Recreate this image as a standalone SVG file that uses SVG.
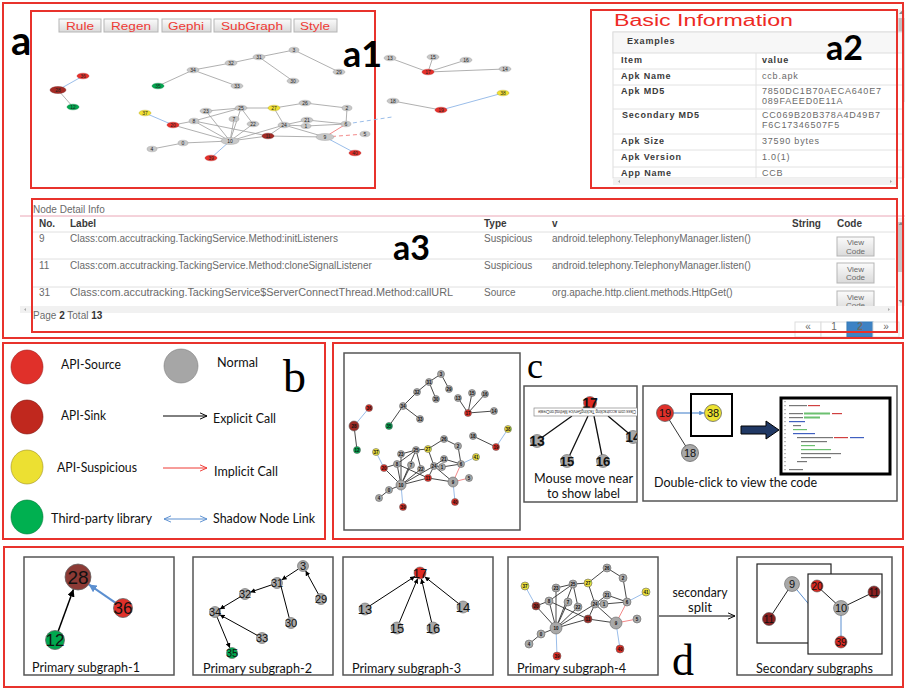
<svg xmlns="http://www.w3.org/2000/svg" width="905" height="688" viewBox="0 0 905 688">
<defs>
<style>
.frame{fill:none;stroke:#e8322c;stroke-width:2}
.btn rect{fill:url(#btnG);stroke:#b5b5b5;stroke-width:1}
.btn text{font-family:"Liberation Sans",Arial,sans-serif;font-size:11px;fill:#ee3a34}
.big{font-family:Lato,"Open Sans",sans-serif;font-weight:bold;fill:#000}
.serif{font-family:"Liberation Serif","Times New Roman",serif;fill:#000}
.lt{font-family:Lato,"Open Sans",sans-serif;font-size:13.5px;fill:#111}
.tb{font-family:"Liberation Sans",Arial,sans-serif;font-size:10px;fill:#6a6a6a}
.tbb{font-family:"Liberation Sans",Arial,sans-serif;font-size:10px;font-weight:bold;fill:#3a3a3a}
.a2t text{font-size:9px;letter-spacing:0.8px}
.vc{font-size:8px;text-anchor:middle}
.eg{stroke:#9c9c9c;stroke-width:0.8;fill:none}
.ek{stroke:#333;stroke-width:0.9;fill:none}
.eb{stroke:#8fb6e6;stroke-width:0.9;fill:none}
.er{stroke:#f07a7a;stroke-width:0.9;fill:none}
.ng{fill:#c8c8c8;stroke:#999;stroke-width:0.4}
.nr{fill:#e8302a;stroke:#b02020;stroke-width:0.4}
.nd{fill:#a52a24;stroke:#701a16;stroke-width:0.4}
.ny{fill:#f2e232;stroke:#b0a020;stroke-width:0.4}
.nv{fill:#00a84f;stroke:#007a38;stroke-width:0.4}
.cg{fill:#a8a8a8;stroke:#666;stroke-width:0.6}
.cr{fill:#e02a22;stroke:#666;stroke-width:0.6}
.cd{fill:#9b2a24;stroke:#666;stroke-width:0.6}
.cy{fill:#ece23a;stroke:#666;stroke-width:0.6}
.cv{fill:#00a84f;stroke:#666;stroke-width:0.6}
.t5{font-family:"Liberation Sans",Arial,sans-serif;font-size:5px;text-anchor:middle;fill:#222}
.t4{font-family:"Liberation Sans",Arial,sans-serif;font-size:4.5px;font-weight:bold;text-anchor:middle;fill:#111}
.tn{font-family:"Liberation Sans",Arial,sans-serif;text-anchor:middle;fill:#111}
.box{fill:#fff;stroke:#555;stroke-width:1.5}
</style>
<linearGradient id="btnG" x1="0" y1="0" x2="0" y2="1"><stop offset="0" stop-color="#fbfbfb"/><stop offset="1" stop-color="#dadada"/></linearGradient>
<marker id="chevK" viewBox="0 0 10 10" refX="9" refY="5" markerWidth="8" markerHeight="8" orient="auto"><path d="M0,1 L9,5 L0,9" fill="none" stroke="#000" stroke-width="1.2"/></marker>
<marker id="chevR" viewBox="0 0 10 10" refX="9" refY="5" markerWidth="8" markerHeight="8" orient="auto"><path d="M0,1 L9,5 L0,9" fill="none" stroke="#ee3a34" stroke-width="1.2"/></marker>
<marker id="chevB" viewBox="0 0 10 10" refX="9" refY="5" markerWidth="8" markerHeight="8" orient="auto-start-reverse"><path d="M0,1 L9,5 L0,9" fill="none" stroke="#5b8fd0" stroke-width="1.2"/></marker>
<marker id="triK" viewBox="0 0 10 10" refX="10" refY="5" markerWidth="5" markerHeight="5" orient="auto"><path d="M0,0 L10,5 L0,10 z" fill="#000"/></marker>
<marker id="triB" viewBox="0 0 10 10" refX="10" refY="5" markerWidth="4" markerHeight="4" orient="auto-start-reverse"><path d="M0,0 L10,5 L0,10 z" fill="#5b8fd0"/></marker>
<clipPath id="clipMouse"><rect x="524" y="386" width="113" height="116"/></clipPath>
<clipPath id="clipA3"><rect x="20" y="216" width="877" height="90"/></clipPath>
</defs>
<rect width="905" height="688" fill="#fff"/>

<!-- ================= PANEL a ================= -->
<g id="panel-a">
<rect class="frame" x="3" y="3" width="900" height="335"/>
<text class="big" x="11" y="55" font-size="40">a</text>
</g>

<!-- a1 -->
<g id="a1">
<rect class="frame" x="31" y="11" width="344" height="177"/>
<g class="btn" id="buttons">
<rect x="59" y="19" width="42" height="13"/><text x="66" y="29.5" textLength="28" lengthAdjust="spacingAndGlyphs">Rule</text>
<rect x="104" y="19" width="54" height="13"/><text x="111" y="29.5" textLength="40" lengthAdjust="spacingAndGlyphs">Regen</text>
<rect x="162" y="19" width="49" height="13"/><text x="168" y="29.5" textLength="36" lengthAdjust="spacingAndGlyphs">Gephi</text>
<rect x="214" y="19" width="77" height="13"/><text x="221" y="29.5" textLength="62" lengthAdjust="spacingAndGlyphs">SubGraph</text>
<rect x="294" y="19" width="43" height="13"/><text x="300" y="29.5" textLength="30" lengthAdjust="spacingAndGlyphs">Style</text>
</g>
<text class="big" x="343" y="67" font-size="36">a1</text>
<g id="a1-edges">
<path class="eg" d="M58,90L73,107 M158,86L193,70 M193,70L237,86 M193,70L231,63 M231,63L259,57 M259,57L294,50 M259,57L293,81 M294,50L339,72 M173,125L194,121 M173,125L230,141 M194,121L241,108 M194,121L230,141 M194,121L268,136 M206,111L241,108 M206,111L230,141 M241,108L230,141 M241,108L253,124 M241,108L274,108 M234,119L230,141 M253,124L230,141 M230,141L284,125 M274,108L284,125 M274,108L305,103 M305,103L347,108 M347,108L346,124 M284,125L307,120 M307,120L346,124 M284,125L306,126 M306,126L346,124 M284,125L268,136 M268,136L230,141 M268,136L325,137 M284,125L325,137 M230,141L183,143 M183,143L152,149 M428,72L390,58 M428,72L433,57 M428,72L466,60 M428,72L505,69 M393,101L441,110"/>
<path class="eb" d="M58,90L83,76 M145,113L173,125 M325,137L355,153 M230,141L211,158 M441,110L503,93"/>
<path class="eb" stroke-dasharray="4,3" d="M346,124L392,117"/>
<path class="er" d="M346,124L325,137"/>
<path class="er" stroke-dasharray="4,3" d="M325,137L365,134"/>
</g>
<g id="a1-nodes">
<g id="a1-n28"><ellipse class="nd" cx="58" cy="90" rx="8" ry="3.5"/><text class="t5" x="58" y="91.8">28</text></g>
<g id="a1-n36"><ellipse class="nr" cx="83" cy="76" rx="6" ry="2.8"/><text class="t5" x="83" y="77.8">36</text></g>
<g id="a1-n12"><ellipse class="nv" cx="73" cy="107" rx="6" ry="2.8"/><text class="t5" x="73" y="108.8">12</text></g>
<g id="a1-n35"><ellipse class="nv" cx="158" cy="86" rx="6" ry="2.8"/><text class="t5" x="158" y="87.8">35</text></g>
<g id="a1-n34"><ellipse class="ng" cx="193" cy="70" rx="6" ry="2.8"/><text class="t5" x="193" y="71.8">34</text></g>
<g id="a1-n33"><ellipse class="ng" cx="237" cy="86" rx="6" ry="2.8"/><text class="t5" x="237" y="87.8">33</text></g>
<g id="a1-n32"><ellipse class="ng" cx="231" cy="63" rx="6" ry="2.8"/><text class="t5" x="231" y="64.8">32</text></g>
<g id="a1-n31"><ellipse class="ng" cx="259" cy="57" rx="6" ry="2.8"/><text class="t5" x="259" y="58.8">31</text></g>
<g id="a1-n30"><ellipse class="ng" cx="293" cy="81" rx="6" ry="2.8"/><text class="t5" x="293" y="82.8">30</text></g>
<g id="a1-n3"><ellipse class="ng" cx="294" cy="50" rx="5" ry="2.8"/><text class="t5" x="294" y="51.8">3</text></g>
<g id="a1-n29"><ellipse class="ng" cx="339" cy="72" rx="6" ry="2.8"/><text class="t5" x="339" y="73.8">29</text></g>
<g id="a1-n37"><ellipse class="ny" cx="145" cy="113" rx="6" ry="2.8"/><text class="t5" x="145" y="114.8">37</text></g>
<g id="a1-n20"><ellipse class="nr" cx="173" cy="125" rx="6" ry="2.8"/><text class="t5" x="173" y="126.8">20</text></g>
<g id="a1-n23"><ellipse class="ng" cx="206" cy="111" rx="6" ry="2.8"/><text class="t5" x="206" y="112.8">23</text></g>
<g id="a1-n8"><ellipse class="ng" cx="194" cy="121" rx="5" ry="2.8"/><text class="t5" x="194" y="122.8">8</text></g>
<g id="a1-n25"><ellipse class="ng" cx="241" cy="108" rx="6" ry="2.8"/><text class="t5" x="241" y="109.8">25</text></g>
<g id="a1-n27"><ellipse class="ny" cx="274" cy="108" rx="6" ry="2.8"/><text class="t5" x="274" y="109.8">27</text></g>
<g id="a1-n26"><ellipse class="ng" cx="305" cy="103" rx="6" ry="2.8"/><text class="t5" x="305" y="104.8">26</text></g>
<g id="a1-n2"><ellipse class="ng" cx="347" cy="108" rx="5" ry="2.8"/><text class="t5" x="347" y="109.8">2</text></g>
<g id="a1-n7"><ellipse class="ng" cx="234" cy="119" rx="5" ry="2.8"/><text class="t5" x="234" y="120.8">7</text></g>
<g id="a1-n22"><ellipse class="ng" cx="253" cy="124" rx="6" ry="2.8"/><text class="t5" x="253" y="125.8">22</text></g>
<g id="a1-n24"><ellipse class="ng" cx="284" cy="125" rx="6" ry="2.8"/><text class="t5" x="284" y="126.8">24</text></g>
<g id="a1-n21"><ellipse class="ng" cx="307" cy="120" rx="6" ry="2.8"/><text class="t5" x="307" y="121.8">21</text></g>
<g id="a1-n1"><ellipse class="ng" cx="306" cy="126" rx="5" ry="2.6"/><text class="t5" x="306" y="127.8">1</text></g>
<g id="a1-n6"><ellipse class="ng" cx="346" cy="124" rx="5" ry="2.8"/><text class="t5" x="346" y="125.8">6</text></g>
<g id="a1-n11"><ellipse class="nd" cx="268" cy="136" rx="6" ry="2.8"/><text class="t5" x="268" y="137.8">11</text></g>
<g id="a1-n9"><ellipse class="ng" cx="325" cy="137" rx="9" ry="3.5"/><text class="t5" x="325" y="138.8">9</text></g>
<g id="a1-n5"><ellipse class="ng" cx="365" cy="134" rx="5" ry="2.8"/><text class="t5" x="365" y="135.8">5</text></g>
<g id="a1-n10"><ellipse class="ng" cx="230" cy="141" rx="9" ry="3.5"/><text class="t5" x="230" y="142.8">10</text></g>
<g id="a1-n0"><ellipse class="ng" cx="183" cy="143" rx="5" ry="2.8"/><text class="t5" x="183" y="144.8">0</text></g>
<g id="a1-n4"><ellipse class="ng" cx="152" cy="149" rx="5" ry="2.8"/><text class="t5" x="152" y="150.8">4</text></g>
<g id="a1-n39"><ellipse class="nr" cx="211" cy="158" rx="6" ry="2.8"/><text class="t5" x="211" y="159.8">39</text></g>
<g id="a1-n40"><ellipse class="nr" cx="355" cy="153" rx="6" ry="2.8"/><text class="t5" x="355" y="154.8">40</text></g>
<g id="a1-n13"><ellipse class="ng" cx="390" cy="58" rx="6" ry="2.8"/><text class="t5" x="390" y="59.8">13</text></g>
<g id="a1-n15"><ellipse class="ng" cx="433" cy="57" rx="6" ry="2.8"/><text class="t5" x="433" y="58.8">15</text></g>
<g id="a1-n16"><ellipse class="ng" cx="466" cy="60" rx="6" ry="2.8"/><text class="t5" x="466" y="61.8">16</text></g>
<g id="a1-n14"><ellipse class="ng" cx="505" cy="69" rx="6" ry="2.8"/><text class="t5" x="505" y="70.8">14</text></g>
<g id="a1-n17"><ellipse class="nr" cx="428" cy="72" rx="6" ry="2.8"/><text class="t5" x="428" y="73.8">17</text></g>
<g id="a1-n18"><ellipse class="ng" cx="393" cy="101" rx="6" ry="2.8"/><text class="t5" x="393" y="102.8">18</text></g>
<g id="a1-n19"><ellipse class="nr" cx="441" cy="110" rx="6" ry="2.8"/><text class="t5" x="441" y="111.8">19</text></g>
<g id="a1-n38"><ellipse class="ny" cx="503" cy="93" rx="6" ry="2.8"/><text class="t5" x="503" y="94.8">38</text></g>
</g>
</g>

<!-- a2 -->
<g id="a2">
<rect x="898" y="10" width="7" height="168" fill="#f1f1f1"/>
<rect x="898.5" y="18" width="6" height="84" fill="#c1c1c1"/>
<path d="M899,14 L901.5,11 L904,14z M899,172 L901.5,175 L904,172z" fill="#888"/>
<rect x="613" y="32" width="290" height="146" fill="#fff" stroke="#ddd" stroke-width="1"/>
<rect x="613" y="32" width="290" height="21" fill="#f7f7f7" stroke="#ddd" stroke-width="1"/>
<path d="M613,69H903 M613,85H903 M613,109H903 M613,134H903 M613,150H903 M613,167H903 M756,53V178" stroke="#e2e2e2" stroke-width="1" fill="none"/>
<rect x="613" y="178" width="284" height="7" fill="#f1f1f1"/>
<path d="M618,181.5 l2,-1.5 v3z M892,181.5 l-2,-1.5 v3z" fill="#aaa"/>
<text x="614" y="26" font-family="'Liberation Sans',Arial,sans-serif" font-size="16" fill="#ee2a24" textLength="179" lengthAdjust="spacingAndGlyphs">Basic Information</text>
<g class="a2t">
<text class="tbb" x="627" y="44">Examples</text>
<text class="tbb" x="621" y="63">Item</text><text class="tbb" x="762" y="63">value</text>
<text class="tbb" x="621" y="79">Apk Name</text><text class="tb" x="762" y="79">ccb.apk</text>
<text class="tbb" x="621" y="94">Apk MD5</text><text class="tb" x="762" y="94">7850DC1B70AECA640E7</text><text class="tb" x="762" y="104">089FAEED0E11A</text>
<text class="tbb" x="622" y="118">Secondary MD5</text><text class="tb" x="762" y="118">CC069B20B378A4D49B7</text><text class="tb" x="762" y="128">F6C17346507F5</text>
<text class="tbb" x="621" y="144">Apk Size</text><text class="tb" x="762" y="144">37590 bytes</text>
<text class="tbb" x="621" y="160">Apk Version</text><text class="tb" x="762" y="160">1.0(1)</text>
<text class="tbb" x="621" y="176">App Name</text><text class="tb" x="762" y="176">CCB</text>
</g>
<text class="big" x="826" y="60" font-size="34">a2</text>
<rect class="frame" x="591" y="10" width="306" height="178"/>
</g>

<!-- a3 -->
<g id="a3">
<text class="tb" x="33" y="213" fill="#555">Node Detail Info</text>
<line x1="20" y1="216" x2="905" y2="216" stroke="#eaa6b6" stroke-width="1"/>
<rect x="897" y="218" width="8" height="88" fill="#f1f1f1"/>
<rect x="898" y="222" width="6" height="50" fill="#c8c8c8"/>
<path d="M898.5,225 l2.5,-3 l2.5,3z M898.5,300 l2.5,3 l2.5,-3z" fill="#888"/>
<g clip-path="url(#clipA3)">
<text class="tbb" x="39" y="227">No.</text><text class="tbb" x="70" y="227">Label</text>
<text class="tbb" x="484" y="227">Type</text><text class="tbb" x="552" y="227">v</text>
<text class="tbb" x="792" y="227">String</text><text class="tbb" x="837" y="227">Code</text>
<path d="M33,232H895 M33,259H895 M33,287H895" stroke="#e0e0e0" stroke-width="1"/>
<text class="tb" x="39" y="242">9</text>
<text class="tb" x="70" y="242">Class:com.accutracking.TackingService.Method:initListeners</text>
<text class="tb" x="484" y="242">Suspicious</text>
<text class="tb" x="552" y="242">android.telephony.TelephonyManager.listen()</text>
<g id="btn-view1"><rect x="837" y="237" width="37" height="19" fill="url(#btnG)" stroke="#b5b5b5"/><text class="tb vc" x="855.5" y="245">View</text><text class="tb vc" x="855.5" y="253.5">Code</text></g>
<text class="tb" x="39" y="269">11</text>
<text class="tb" x="70" y="269">Class:com.accutracking.TackingService.Method:cloneSignalListener</text>
<text class="tb" x="484" y="269">Suspicious</text>
<text class="tb" x="552" y="269">android.telephony.TelephonyManager.listen()</text>
<g id="btn-view2"><rect x="837" y="263" width="37" height="20" fill="url(#btnG)" stroke="#b5b5b5"/><text class="tb vc" x="855.5" y="271.5">View</text><text class="tb vc" x="855.5" y="280">Code</text></g>
<text class="tb" x="39" y="296">31</text>
<text class="tb" x="70" y="296" textLength="383" lengthAdjust="spacingAndGlyphs">Class:com.accutracking.TackingService$ServerConnectThread.Method:callURL</text>
<text class="tb" x="484" y="296">Source</text>
<text class="tb" x="552" y="296">org.apache.http.client.methods.HttpGet()</text>
<g id="btn-view3"><rect x="837" y="291" width="37" height="20" fill="url(#btnG)" stroke="#b5b5b5"/><text class="tb vc" x="855.5" y="299.5">View</text><text class="tb vc" x="855.5" y="308">Code</text></g>
</g>
<rect x="20" y="306" width="875" height="7" fill="#f1f1f1"/>
<path d="M24,309.5 l2,-1.5 v3z M890,309.5 l-2,-1.5 v3z" fill="#aaa"/>
<text class="tb" x="33" y="319" fill="#555">Page <tspan font-weight="bold" fill="#333">2</tspan> Total <tspan font-weight="bold" fill="#333">13</tspan></text>
<g id="pagination">
<rect x="795" y="322" width="26" height="15" fill="#fff" stroke="#ddd"/><text class="tb" x="808" y="330" text-anchor="middle" font-size="8" fill="#6a8cc8">«</text>
<rect x="821" y="322" width="26" height="15" fill="#fff" stroke="#ddd"/><text class="tb" x="834" y="330" text-anchor="middle" fill="#337ab7">1</text>
<rect x="847" y="322" width="26" height="15" fill="#3d82c4" stroke="#337ab7"/><text class="tb" x="860" y="330" text-anchor="middle" font-weight="bold" fill="#ffffff">2</text>
<rect x="873" y="322" width="26" height="15" fill="#fff" stroke="#ddd"/><text class="tb" x="886" y="330" text-anchor="middle" font-size="8" fill="#6a8cc8">»</text>
</g>
<text class="big" x="393" y="260" font-size="34">a3</text>
<rect class="frame" x="32" y="199" width="865" height="133"/>
<rect class="frame" x="3" y="3" width="900" height="335"/>
</g>

<!-- ================= PANEL b (legend) ================= -->
<g id="panel-b">
<rect class="frame" x="3" y="343" width="322" height="196"/>
<text class="serif" x="283" y="392" font-size="46">b</text>
<g id="leg-source"><ellipse cx="27" cy="367" rx="16" ry="17" fill="#e0302a" stroke="#a02020" stroke-width="0.6"/><text class="lt" x="61" y="369" textLength="60" lengthAdjust="spacingAndGlyphs">API-Source</text></g>
<g id="leg-sink"><ellipse cx="27" cy="417" rx="16" ry="17" fill="#c0281e" stroke="#801810" stroke-width="0.6"/><text class="lt" x="61" y="420" textLength="45" lengthAdjust="spacingAndGlyphs">API-Sink</text></g>
<g id="leg-susp"><ellipse cx="27" cy="467" rx="16" ry="17" fill="#ece032" stroke="#a09020" stroke-width="0.6"/><text class="lt" x="57" y="472" textLength="80" lengthAdjust="spacingAndGlyphs">API-Suspicious</text></g>
<g id="leg-third"><ellipse cx="27" cy="517" rx="16" ry="17" fill="#00b050" stroke="#007a38" stroke-width="0.6"/><text class="lt" x="51" y="523" textLength="101" lengthAdjust="spacingAndGlyphs">Third-party library</text></g>
<g id="leg-normal"><ellipse cx="181" cy="366" rx="17" ry="17" fill="#a6a6a6" stroke="#808080" stroke-width="0.6"/><text class="lt" x="217" y="367" textLength="41" lengthAdjust="spacingAndGlyphs">Normal</text></g>
<g id="leg-explicit"><line x1="163" y1="416" x2="207" y2="416" stroke="#000" stroke-width="1" marker-end="url(#chevK)"/><text class="lt" x="213" y="423" textLength="63" lengthAdjust="spacingAndGlyphs">Explicit Call</text></g>
<g id="leg-implicit"><line x1="163" y1="468" x2="207" y2="468" stroke="#ee3a34" stroke-width="1" marker-end="url(#chevR)"/><text class="lt" x="214" y="476" textLength="64" lengthAdjust="spacingAndGlyphs">Implicit Call</text></g>
<g id="leg-shadow"><line x1="164" y1="519" x2="207" y2="519" stroke="#5b8fd0" stroke-width="1" marker-start="url(#chevB)" marker-end="url(#chevB)"/><text class="lt" x="213" y="523" textLength="102" lengthAdjust="spacingAndGlyphs">Shadow Node Link</text></g>
</g>

<!-- ================= PANEL c ================= -->
<g id="panel-c">
<rect class="frame" x="333" y="343" width="570" height="196"/>
<text class="serif" x="527" y="378" font-size="36">c</text>

<g id="c-graph">
<rect class="box" x="344" y="353" width="176" height="177"/>
<path class="ek" d="M354,426L357,450 M389,426L403,406 M403,406L420,419 M403,406L417,392 M417,392L429,382 M429,382L441,374 M429,382L436,399 M441,374L449,389 M384,468L397,464 M384,468L401,485 M397,464L416,450 M397,464L401,485 M397,464L428,478 M401,454L416,450 M401,454L401,485 M416,450L401,485 M416,450L421,469 M416,450L428,449 M411,465L401,485 M421,469L401,485 M401,485L434,466 M428,449L434,466 M428,449L444,439 M444,439L458,446 M458,446L461,464 M434,466L444,459 M444,459L461,464 M434,466L442,467 M442,467L461,464 M434,466L428,478 M428,478L401,485 M428,478L453,482 M434,466L453,482 M401,485L389,490 M389,490L379,498 M468,413L458,398 M468,413L472,393 M468,413L485,394 M468,413L494,411 M473,436L496,447"/>
<path class="eb" d="M354,426L369,408 M376,452L384,468 M453,482L455,502 M401,485L403,507 M496,447L508,429 M461,464L476,457"/>
<path class="er" d="M461,464L453,482 M453,482L469,478"/>
<g id="c-n3"><circle class="cg" cx="441" cy="374" r="3.5"/><text class="t4" x="441" y="375.6">3</text></g>
<g id="c-n31"><circle class="cg" cx="429" cy="382" r="3.5"/><text class="t4" x="429" y="383.6">31</text></g>
<g id="c-n29"><circle class="cg" cx="449" cy="389" r="3.5"/><text class="t4" x="449" y="390.6">29</text></g>
<g id="c-n32"><circle class="cg" cx="417" cy="392" r="3.5"/><text class="t4" x="417" y="393.6">32</text></g>
<g id="c-n30"><circle class="cg" cx="436" cy="399" r="3.5"/><text class="t4" x="436" y="400.6">30</text></g>
<g id="c-n34"><circle class="cg" cx="403" cy="406" r="3.5"/><text class="t4" x="403" y="407.6">34</text></g>
<g id="c-n33"><circle class="cg" cx="420" cy="419" r="3.5"/><text class="t4" x="420" y="420.6">33</text></g>
<g id="c-n35"><circle class="cv" cx="389" cy="426" r="3.5"/><text class="t4" x="389" y="427.6">35</text></g>
<g id="c-n36"><circle class="cr" cx="369" cy="408" r="3.5"/><text class="t4" x="369" y="409.6">36</text></g>
<g id="c-n28"><circle class="cd" cx="354" cy="426" r="5"/><text class="t4" x="354" y="427.6">28</text></g>
<g id="c-n12"><circle class="cv" cx="357" cy="450" r="3.5"/><text class="t4" x="357" y="451.6">12</text></g>
<g id="c-n13"><circle class="cg" cx="458" cy="398" r="3.5"/><text class="t4" x="458" y="399.6">13</text></g>
<g id="c-n15"><circle class="cg" cx="472" cy="393" r="3.5"/><text class="t4" x="472" y="394.6">15</text></g>
<g id="c-n16"><circle class="cg" cx="485" cy="394" r="3.5"/><text class="t4" x="485" y="395.6">16</text></g>
<g id="c-n14"><circle class="cg" cx="494" cy="411" r="3.5"/><text class="t4" x="494" y="412.6">14</text></g>
<g id="c-n17"><circle class="cr" cx="468" cy="413" r="3.5"/><text class="t4" x="468" y="414.6">17</text></g>
<g id="c-n18"><circle class="cg" cx="473" cy="436" r="3.5"/><text class="t4" x="473" y="437.6">18</text></g>
<g id="c-n19"><circle class="cr" cx="496" cy="447" r="3.5"/><text class="t4" x="496" y="448.6">19</text></g>
<g id="c-n38"><circle class="cy" cx="508" cy="429" r="3.5"/><text class="t4" x="508" y="430.6">38</text></g>
<g id="c-n37"><circle class="cy" cx="376" cy="452" r="3.5"/><text class="t4" x="376" y="453.6">37</text></g>
<g id="c-n26"><circle class="cg" cx="444" cy="439" r="3.5"/><text class="t4" x="444" y="440.6">26</text></g>
<g id="c-n2"><circle class="cg" cx="458" cy="446" r="3.5"/><text class="t4" x="458" y="447.6">2</text></g>
<g id="c-n27"><circle class="cy" cx="428" cy="449" r="3.5"/><text class="t4" x="428" y="450.6">27</text></g>
<g id="c-n25"><circle class="cg" cx="416" cy="450" r="3.5"/><text class="t4" x="416" y="451.6">25</text></g>
<g id="c-n23"><circle class="cg" cx="401" cy="454" r="3.5"/><text class="t4" x="401" y="455.6">23</text></g>
<g id="c-n21"><circle class="cg" cx="444" cy="459" r="3.5"/><text class="t4" x="444" y="460.6">21</text></g>
<g id="c-n41"><circle class="cy" cx="476" cy="457" r="3.5"/><text class="t4" x="476" y="458.6">41</text></g>
<g id="c-n8"><circle class="cg" cx="397" cy="464" r="3.5"/><text class="t4" x="397" y="465.6">8</text></g>
<g id="c-n7"><circle class="cg" cx="411" cy="465" r="3.5"/><text class="t4" x="411" y="466.6">7</text></g>
<g id="c-n24"><circle class="cg" cx="434" cy="466" r="3.5"/><text class="t4" x="434" y="467.6">24</text></g>
<g id="c-n1"><circle class="cg" cx="442" cy="467" r="3.5"/><text class="t4" x="442" y="468.6">1</text></g>
<g id="c-n6"><circle class="cg" cx="461" cy="464" r="3.5"/><text class="t4" x="461" y="465.6">6</text></g>
<g id="c-n20"><circle class="cr" cx="384" cy="468" r="3.5"/><text class="t4" x="384" y="469.6">20</text></g>
<g id="c-n22"><circle class="cg" cx="421" cy="469" r="3.5"/><text class="t4" x="421" y="470.6">22</text></g>
<g id="c-n11"><circle class="cr" cx="428" cy="478" r="3.5"/><text class="t4" x="428" y="479.6">11</text></g>
<g id="c-n5"><circle class="cg" cx="469" cy="478" r="3.5"/><text class="t4" x="469" y="479.6">5</text></g>
<g id="c-n9"><circle class="cg" cx="453" cy="482" r="5"/><text class="t4" x="453" y="483.6">9</text></g>
<g id="c-n10"><circle class="cg" cx="401" cy="485" r="5"/><text class="t4" x="401" y="486.6">10</text></g>
<g id="c-n0"><circle class="cg" cx="389" cy="490" r="3.5"/><text class="t4" x="389" y="491.6">0</text></g>
<g id="c-n4"><circle class="cg" cx="379" cy="498" r="3.5"/><text class="t4" x="379" y="499.6">4</text></g>
<g id="c-n39"><circle class="cr" cx="403" cy="507" r="3.5"/><text class="t4" x="403" y="508.6">39</text></g>
<g id="c-n40"><circle class="cr" cx="455" cy="502" r="3.5"/><text class="t4" x="455" y="503.6">40</text></g>
</g>

<g id="c-mouse">
<rect class="box" x="524" y="386" width="113" height="116"/>
<g clip-path="url(#clipMouse)">
<path d="M572,416L537,441 M588,416L567,461 M594,416L603,461 M608,416L633,437" stroke="#111" stroke-width="1.3" fill="none"/>
<g id="m-n13"><circle class="cg" cx="537" cy="441" r="6.5"/><text class="tn" x="537" y="446" font-size="14" font-weight="bold">13</text></g>
<g id="m-n14"><circle class="cg" cx="633" cy="437" r="6.5"/><text class="tn" x="633" y="442" font-size="14" font-weight="bold">14</text></g>
<g id="m-n15"><circle class="cg" cx="567" cy="461" r="6.5"/><text class="tn" x="567" y="465.5" font-size="13" font-weight="bold">15</text></g>
<g id="m-n16"><circle class="cg" cx="603" cy="461" r="6.5"/><text class="tn" x="603" y="465.5" font-size="13" font-weight="bold">16</text></g>
<g id="m-n17"><circle class="cr" cx="590" cy="403" r="6.5"/><text class="tn" x="590" y="408" font-size="14" font-weight="bold">17</text></g>
<g id="tooltip"><rect x="534" y="408" width="106" height="8" fill="#fff" stroke="#888" stroke-width="0.7"/>
<text transform="translate(636,410.3) rotate(180)" font-family="'Liberation Sans',Arial,sans-serif" font-size="5.5" fill="#333" textLength="98" lengthAdjust="spacingAndGlyphs">Class:com.accutracking.TackingService.Method:onCreate</text></g>
</g>
<text class="lt" x="534" y="483" font-size="14" textLength="99" lengthAdjust="spacingAndGlyphs">Mouse move near</text>
<text class="lt" x="547" y="498" font-size="14" textLength="73" lengthAdjust="spacingAndGlyphs">to show label</text>
</g>

<g id="c-dblclick">
<rect class="box" x="643" y="386" width="254" height="115"/>
<line x1="690" y1="453" x2="665" y2="413" stroke="#333" stroke-width="1"/>
<line x1="673.5" y1="413" x2="704" y2="413" stroke="#5b8fd0" stroke-width="1.2" marker-end="url(#triB)"/>
<rect x="691" y="394" width="41" height="42" fill="none" stroke="#000" stroke-width="2"/>
<g id="dc-n19"><circle cx="665" cy="413" r="8.5" fill="#e0302a" stroke="#555" stroke-width="0.7"/><text class="tn" x="665" y="417" font-size="11">19</text></g>
<g id="dc-n38"><circle cx="713" cy="413" r="8.5" fill="#ece232" stroke="#555" stroke-width="0.7"/><text class="tn" x="713" y="417" font-size="11">38</text></g>
<g id="dc-n18"><circle cx="690" cy="453" r="8.5" fill="#a8a8a8" stroke="#555" stroke-width="0.7"/><text class="tn" x="690" y="457" font-size="11">18</text></g>
<polygon points="741,426 766,426 766,421 779,430 766,439 766,434 741,434" fill="#203864" stroke="#000" stroke-width="1"/>
<g id="code-shot">
<rect x="781" y="398" width="109" height="76" fill="#fff" stroke="#000" stroke-width="3"/>
<g fill="#bbb"><rect x="784" y="401" width="2" height="1.2"/><rect x="784" y="405" width="2" height="1.2"/><rect x="784" y="409" width="2" height="1.2"/><rect x="784" y="413" width="2" height="1.2"/><rect x="784" y="417" width="2" height="1.2"/><rect x="784" y="421" width="2" height="1.2"/><rect x="784" y="425" width="2" height="1.2"/><rect x="784" y="429" width="2" height="1.2"/><rect x="784" y="433" width="2" height="1.2"/><rect x="784" y="437" width="2" height="1.2"/><rect x="784" y="441" width="2" height="1.2"/><rect x="784" y="445" width="2" height="1.2"/><rect x="784" y="449" width="2" height="1.2"/><rect x="784" y="453" width="2" height="1.2"/><rect x="784" y="457" width="2" height="1.2"/><rect x="784" y="461" width="2" height="1.2"/><rect x="784" y="465" width="2" height="1.2"/><rect x="784" y="469" width="2" height="1.2"/></g>
<rect x="789" y="405" width="18" height="1.2" fill="#777"/><rect x="808" y="405" width="12" height="1.2" fill="#d04040"/>
<rect x="789" y="413" width="14" height="1.2" fill="#777"/><rect x="804" y="412.5" width="26" height="2" fill="#6cc070"/><rect x="832" y="413" width="10" height="1.2" fill="#d04040"/>
<rect x="789" y="417" width="14" height="1.2" fill="#777"/><rect x="804" y="416.5" width="16" height="2" fill="#6cc070"/>
<rect x="789" y="421" width="16" height="1.2" fill="#4060c0"/>
<rect x="793" y="425" width="8" height="1.2" fill="#777"/>
<rect x="793" y="429" width="14" height="1.2" fill="#6cc070"/>
<rect x="793" y="433" width="22" height="1.2" fill="#4060c0"/>
<rect x="797" y="437" width="36" height="1.2" fill="#777"/><rect x="834" y="437" width="14" height="1.2" fill="#d04040"/><rect x="850" y="437" width="14" height="1.2" fill="#4060c0"/>
<rect x="801" y="441" width="26" height="1.2" fill="#777"/>
<rect x="801" y="445" width="14" height="1.2" fill="#6cc070"/>
<rect x="801" y="449" width="30" height="1.2" fill="#6cc070"/>
<rect x="801" y="453" width="40" height="1.2" fill="#777"/>
<rect x="801" y="457" width="30" height="1.2" fill="#777"/>
<rect x="797" y="461" width="10" height="1.2" fill="#777"/>
<rect x="789" y="469" width="14" height="1.2" fill="#777"/>
</g>
<text class="lt" x="654" y="487" font-size="14" textLength="163" lengthAdjust="spacingAndGlyphs">Double-click to view the code</text>
</g>
</g>

<!-- ================= PANEL d ================= -->
<g id="panel-d">
<rect class="frame" x="4" y="547" width="899" height="140"/>
<text class="serif" x="672" y="675" font-size="44">d</text>

<g id="sub1">
<rect class="box" x="24" y="557" width="150" height="118"/>
<line x1="58.1" y1="631.5" x2="73.5" y2="589.2" stroke="#000" stroke-width="1.5" marker-end="url(#triK)"/>
<line x1="115.6" y1="602.9" x2="88.7" y2="584.4" stroke="#5b8fd0" stroke-width="2" marker-end="url(#triB)"/>
<g id="s1-n28"><circle cx="78" cy="577" r="13" fill="#8c3a35" stroke="#666" stroke-width="0.8"/><text class="tn" x="78" y="584" font-size="19">28</text></g>
<g id="s1-n36"><circle cx="123" cy="608" r="9.5" fill="#e0302a" stroke="#666" stroke-width="0.8"/><text class="tn" x="123" y="614" font-size="17">36</text></g>
<g id="s1-n12"><circle cx="55" cy="640" r="9.5" fill="#00a84f" stroke="#666" stroke-width="0.8"/><text class="tn" x="55" y="646" font-size="17">12</text></g>
<text class="lt" x="32" y="672" font-size="14" textLength="108" lengthAdjust="spacingAndGlyphs">Primary subgraph-1</text>
</g>

<g id="sub2">
<rect class="box" x="193" y="557" width="140" height="118"/>
<g stroke="#000" stroke-width="1" marker-end="url(#triK)">
<line x1="298.4" y1="569" x2="281.6" y2="580"/>
<line x1="318.4" y1="594.2" x2="305.6" y2="570.8"/>
<line x1="271.8" y1="584.8" x2="250.2" y2="592.2"/>
<line x1="289.2" y1="617.8" x2="278.8" y2="577.8"/>
<line x1="240.3" y1="596.8" x2="219.7" y2="609.2"/>
<line x1="257.2" y1="635.3" x2="219.8" y2="614.7"/>
<line x1="217.1" y1="617.1" x2="229.9" y2="647.9"/>
</g>
<g id="s2-n3"><circle class="cg" cx="303" cy="566" r="5.5"/><text class="tn" x="303" y="570" font-size="11">3</text></g>
<g id="s2-n31"><circle class="cg" cx="277" cy="583" r="5.5"/><text class="tn" x="277" y="587" font-size="11">31</text></g>
<g id="s2-n29"><circle class="cg" cx="321" cy="599" r="5.5"/><text class="tn" x="321" y="603" font-size="11">29</text></g>
<g id="s2-n32"><circle class="cg" cx="245" cy="594" r="5.5"/><text class="tn" x="245" y="598" font-size="11">32</text></g>
<g id="s2-n30"><circle class="cg" cx="291" cy="623" r="5.5"/><text class="tn" x="291" y="627" font-size="11">30</text></g>
<g id="s2-n34"><circle class="cg" cx="215" cy="612" r="5.5"/><text class="tn" x="215" y="616" font-size="11">34</text></g>
<g id="s2-n33"><circle class="cg" cx="262" cy="638" r="5.5"/><text class="tn" x="262" y="642" font-size="11">33</text></g>
<g id="s2-n35"><circle class="cv" cx="232" cy="653" r="5.5"/><text class="tn" x="232" y="657" font-size="11">35</text></g>
<text class="lt" x="203" y="673" font-size="14" textLength="109" lengthAdjust="spacingAndGlyphs">Primary subgraph-2</text>
</g>

<g id="sub3">
<rect class="box" x="343" y="557" width="150" height="118"/>
<g stroke="#000" stroke-width="1" marker-end="url(#triK)">
<line x1="370" y1="605.7" x2="415" y2="576.3"/>
<line x1="399.3" y1="622.5" x2="417.7" y2="578.5"/>
<line x1="431.6" y1="622.2" x2="421.4" y2="578.8"/>
<line x1="458.3" y1="603.3" x2="424.7" y2="576.7"/>
</g>
<g id="s3-n17"><circle class="cr" cx="420" cy="573" r="6"/><text class="tn" x="420" y="578" font-size="13">17</text></g>
<g id="s3-n13"><circle class="cg" cx="365" cy="609" r="6"/><text class="tn" x="365" y="614" font-size="13">13</text></g>
<g id="s3-n15"><circle class="cg" cx="397" cy="628" r="6"/><text class="tn" x="397" y="633" font-size="13">15</text></g>
<g id="s3-n16"><circle class="cg" cx="433" cy="628" r="6"/><text class="tn" x="433" y="633" font-size="13">16</text></g>
<g id="s3-n14"><circle class="cg" cx="463" cy="607" r="6"/><text class="tn" x="463" y="612" font-size="13">14</text></g>
<text class="lt" x="352" y="673" font-size="14" textLength="109" lengthAdjust="spacingAndGlyphs">Primary subgraph-3</text>
</g>

<g id="sub4">
<rect class="box" x="508" y="557" width="150" height="118"/>
<path class="ek" d="M536,606L549,601 M536,606L556,628 M549,601L573,584 M549,601L556,628 M549,601L588,619 M556,588L573,584 M556,588L556,628 M573,584L556,628 M573,584L578,607 M573,584L588,583 M568,602L556,628 M578,607L556,628 M556,628L595,604 M588,583L595,604 M588,583L607,568 M607,568L623,578 M623,578L627,602 M595,604L607,595 M607,595L627,602 M595,604L604,604 M604,604L627,602 M595,604L588,619 M588,619L556,628 M588,619L616,623 M595,604L616,623 M556,628L541,634 M541,634L529,644"/>
<path class="eb" d="M525,586L536,606 M627,602L646,592 M616,623L620,649 M556,628L557,656"/>
<path class="er" d="M627,602L616,623 M616,623L637,619"/>
<g id="s4-n37"><circle class="cy" cx="525" cy="586" r="4"/><text class="t4" x="525" y="587.6">37</text></g>
<g id="s4-n20"><circle class="cd" cx="536" cy="606" r="4"/><text class="t4" x="536" y="607.6">20</text></g>
<g id="s4-n23"><circle class="cg" cx="556" cy="588" r="4"/><text class="t4" x="556" y="589.6">23</text></g>
<g id="s4-n25"><circle class="cg" cx="573" cy="584" r="4"/><text class="t4" x="573" y="585.6">25</text></g>
<g id="s4-n27"><circle class="cy" cx="588" cy="583" r="4"/><text class="t4" x="588" y="584.6">27</text></g>
<g id="s4-n26"><circle class="cg" cx="607" cy="568" r="4"/><text class="t4" x="607" y="569.6">26</text></g>
<g id="s4-n2"><circle class="cg" cx="623" cy="578" r="4"/><text class="t4" x="623" y="579.6">2</text></g>
<g id="s4-n8"><circle class="cg" cx="549" cy="601" r="4"/><text class="t4" x="549" y="602.6">8</text></g>
<g id="s4-n7"><circle class="cg" cx="568" cy="602" r="4"/><text class="t4" x="568" y="603.6">7</text></g>
<g id="s4-n22"><circle class="cg" cx="578" cy="607" r="4"/><text class="t4" x="578" y="608.6">22</text></g>
<g id="s4-n24"><circle class="cg" cx="595" cy="604" r="4"/><text class="t4" x="595" y="605.6">24</text></g>
<g id="s4-n21"><circle class="cg" cx="607" cy="595" r="4"/><text class="t4" x="607" y="596.6">21</text></g>
<g id="s4-n1"><circle class="cg" cx="604" cy="604" r="4"/><text class="t4" x="604" y="605.6">1</text></g>
<g id="s4-n6"><circle class="cg" cx="627" cy="602" r="4"/><text class="t4" x="627" y="603.6">6</text></g>
<g id="s4-n41"><circle class="cy" cx="646" cy="592" r="4"/><text class="t4" x="646" y="593.6">41</text></g>
<g id="s4-n11"><circle class="cd" cx="588" cy="619" r="4"/><text class="t4" x="588" y="620.6">11</text></g>
<g id="s4-n9"><circle class="cg" cx="616" cy="623" r="6"/><text class="t4" x="616" y="624.6">9</text></g>
<g id="s4-n5"><circle class="cg" cx="637" cy="619" r="4"/><text class="t4" x="637" y="620.6">5</text></g>
<g id="s4-n10"><circle class="cg" cx="556" cy="628" r="6"/><text class="t4" x="556" y="629.6">10</text></g>
<g id="s4-n0"><circle class="cg" cx="541" cy="634" r="4"/><text class="t4" x="541" y="635.6">0</text></g>
<g id="s4-n4"><circle class="cg" cx="529" cy="644" r="4"/><text class="t4" x="529" y="645.6">4</text></g>
<g id="s4-n39"><circle class="cr" cx="557" cy="656" r="4"/><text class="t4" x="557" y="657.6">39</text></g>
<g id="s4-n40"><circle class="cr" cx="620" cy="649" r="4"/><text class="t4" x="620" y="650.6">40</text></g>
<text class="lt" x="517" y="673" font-size="14" textLength="109" lengthAdjust="spacingAndGlyphs">Primary subgraph-4</text>
</g>

<g id="split-arrow">
<line x1="659" y1="616" x2="735" y2="616" stroke="#000" stroke-width="1" marker-end="url(#chevK)"/>
<text class="lt" x="700" y="597" font-size="14" text-anchor="middle" textLength="55" lengthAdjust="spacingAndGlyphs">secondary</text>
<text class="lt" x="700" y="612" font-size="14" text-anchor="middle" textLength="24" lengthAdjust="spacingAndGlyphs">split</text>
</g>

<g id="secondary">
<rect class="box" x="737" y="557" width="155" height="118"/>
<g id="sec-back">
<rect x="757" y="564" width="74" height="79" fill="#fff" stroke="#222" stroke-width="1.2"/>
<line x1="792" y1="584" x2="769" y2="619" stroke="#222" stroke-width="1"/>
<line x1="792" y1="584" x2="812" y2="608" stroke="#5b8fd0" stroke-width="1"/>
<g id="sb-n9"><circle class="cg" cx="792" cy="584" r="7.5"/><text class="tn" x="792" y="588" font-size="11">9</text></g>
<g id="sb-n11"><circle cx="769" cy="619" r="6.5" fill="#8b2020" stroke="#555" stroke-width="0.6"/><text class="tn" x="769" y="623" font-size="10">11</text></g>
</g>
<g id="sec-front">
<rect x="808" y="574" width="74" height="80" fill="#fff" stroke="#222" stroke-width="1.2"/>
<path d="M817,586L841,608 M841,608L874,592" stroke="#222" stroke-width="1" fill="none"/>
<line x1="841" y1="608" x2="841" y2="642" stroke="#5b8fd0" stroke-width="1"/>
<g id="sf-n20"><circle cx="817" cy="586" r="6" fill="#d62a22" stroke="#555" stroke-width="0.6"/><text class="tn" x="817" y="590" font-size="10">20</text></g>
<g id="sf-n11"><circle cx="874" cy="592" r="6" fill="#8b2020" stroke="#555" stroke-width="0.6"/><text class="tn" x="874" y="596" font-size="10">11</text></g>
<g id="sf-n10"><circle class="cg" cx="841" cy="608" r="7.5"/><text class="tn" x="841" y="612" font-size="11">10</text></g>
<g id="sf-n39"><circle cx="841" cy="642" r="6" fill="#d62a22" stroke="#555" stroke-width="0.6"/><text class="tn" x="841" y="646" font-size="10">39</text></g>
</g>
<text class="lt" x="756" y="673" font-size="14" textLength="117" lengthAdjust="spacingAndGlyphs">Secondary subgraphs</text>
</g>
</g>
</svg>
